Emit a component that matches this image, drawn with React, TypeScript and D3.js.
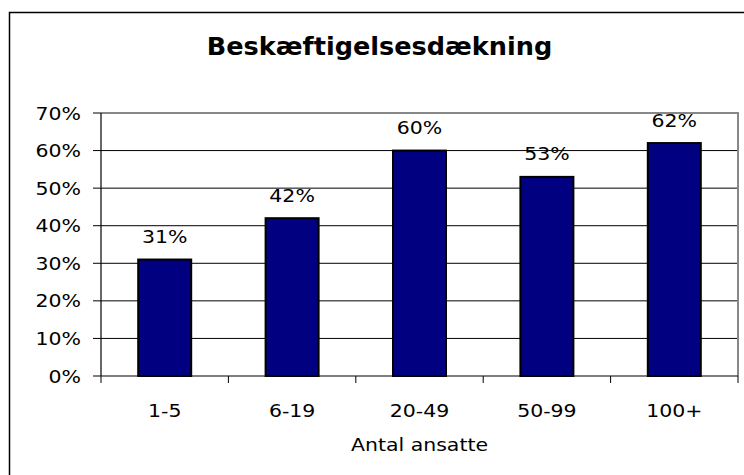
import React from "react";
import * as d3 from "d3";

const categories = ["1-5", "6-19", "20-49", "50-99", "100+"];
const values = [31, 42, 60, 53, 62];
const yTicks = [0, 10, 20, 30, 40, 50, 60, 70];
const title = "Beskæftigelsesdækning";
const xTitle = "Antal ansatte";

const W = 744;
const H = 475;
const plot = { left: 101, right: 738, top: 113, bottom: 376 };
const SX = 1.17;
const FONT = "'DejaVu Sans', Verdana, sans-serif";

function T({ x, y, anchor = "middle", size = 17, sx = SX, bold = false, children }: any) {
  return (
    <text
      transform={`translate(${x},${y}) scale(${sx},1)`}
      textAnchor={anchor}
      fontFamily={FONT}
      fontSize={size}
      fontWeight={bold ? "bold" : "normal"}
      fill="#000"
    >
      {children}
    </text>
  );
}

export default function App() {
  const x = d3
    .scaleBand<string>()
    .domain(categories)
    .range([plot.left, plot.right])
    .paddingInner(0.584)
    .paddingOuter(0.292);
  const y = d3.scaleLinear().domain([0, 70]).range([plot.bottom, plot.top]);
  const step = x.step();
  const boundaries = d3.range(categories.length + 1).map((i) => plot.left + i * step);

  return (
    <svg width={W} height={H} style={{ position: "absolute", left: 0, top: 0 }}>
      <rect x={0} y={0} width={W} height={H} fill="#fff" />
      <rect x={9.5} y={12.5} width={W} height={H} fill="#fff" stroke="#000" strokeWidth={1.5} />
      <T x={379.5} y={55} size={24} sx={1.065} bold>
        {title}
      </T>
      {yTicks.filter((t) => t > 0 && t < 70).map((t) => (
        <line key={t} x1={plot.left} x2={plot.right} y1={y(t)} y2={y(t)} stroke="#000" strokeWidth={1} />
      ))}
      <path
        d={`M${plot.left},${y(70)}H${plot.right}V${plot.bottom}`}
        fill="none"
        stroke="#888"
        strokeWidth={2}
      />
      {values.map((v, i) => (
        <rect
          key={categories[i]}
          x={x(categories[i])!}
          y={y(v)}
          width={x.bandwidth()}
          height={plot.bottom - y(v)}
          fill="#000080"
          stroke="#000"
          strokeWidth={2}
        />
      ))}
      <line x1={plot.left} x2={plot.left} y1={plot.top} y2={plot.bottom} stroke="#000" strokeWidth={1.2} />
      <line x1={plot.left} x2={plot.right} y1={plot.bottom} y2={plot.bottom} stroke="#000" strokeWidth={1.2} />
      {yTicks.map((t) => (
        <g key={t}>
          <line x1={plot.left - 8} x2={plot.left} y1={y(t)} y2={y(t)} stroke="#000" strokeWidth={1} />
          <T x={81} y={y(t) + 6.5} anchor="end" size={17.5}>
            {`${t}%`}
          </T>
        </g>
      ))}
      {boundaries.map((bx, i) => (
        <line key={i} x1={bx} x2={bx} y1={plot.bottom} y2={plot.bottom + 7} stroke="#000" strokeWidth={1} />
      ))}
      {values.map((v, i) => (
        <T key={categories[i]} x={x(categories[i])! + x.bandwidth() / 2} y={y(v) - 16.5} size={17.5}>
          {`${v}%`}
        </T>
      ))}
      {categories.map((c) => (
        <T key={c} x={x(c)! + x.bandwidth() / 2} y={417} size={17.5}>
          {c}
        </T>
      ))}
      <T x={(plot.left + plot.right) / 2} y={451} size={17.5}>
        {xTitle}
      </T>
    </svg>
  );
}
